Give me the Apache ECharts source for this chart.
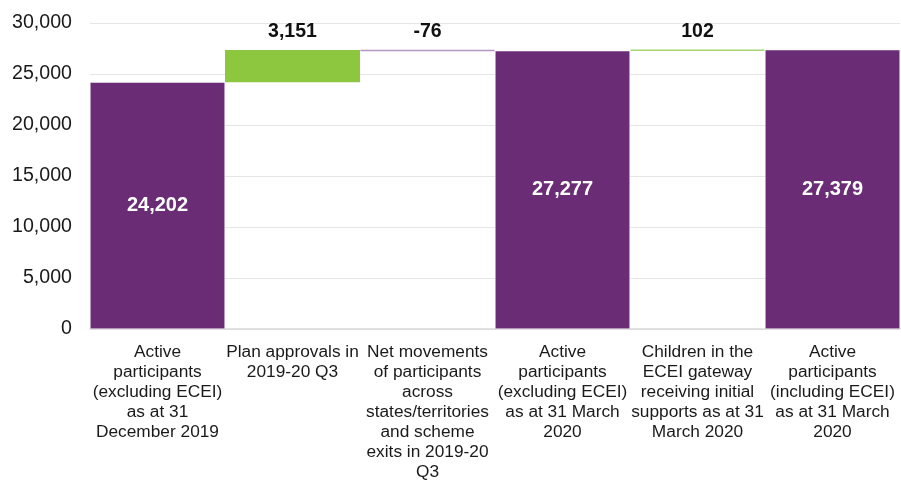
<!DOCTYPE html>
<html><head><meta charset="utf-8">
<script src="https://cdn.jsdelivr.net/npm/echarts@6/dist/echarts.min.js"></script>
<style>html,body{margin:0;padding:0;background:#fff}#c{width:901px;height:482px}</style>
</head><body><div id="c"></div>
<script>
var categories = [
  "Active\nparticipants\n(excluding ECEI)\nas at 31\nDecember 2019",
  "Plan approvals in\n2019-20 Q3",
  "Net movements\nof participants\nacross\nstates/territories\nand scheme\nexits in 2019-20\nQ3",
  "Active\nparticipants\n(excluding ECEI)\nas at 31 March\n2020",
  "Children in the\nECEI gateway\nreceiving initial\nsupports as at 31\nMarch 2020",
  "Active\nparticipants\n(including ECEI)\nas at 31 March\n2020"
];
var values = [24202, 3151, -76, 27277, 102, 27379];
var kinds = ["total", "delta", "delta", "total", "delta", "total"];
var yTicks = [0, 5000, 10000, 15000, 20000, 25000, 30000];

var PURPLE = "#6A2C75", GREEN = "#8DC63F", LPURPLE = "#B595C2", LGREEN = "#A6D472";
function fmt(v){ return v.toLocaleString("en-US"); }

var base = [], shown = [];
var running = 0;
for (var i = 0; i < values.length; i++) {
  var v = values[i];
  if (kinds[i] === "total") {
    base.push(0);
    shown.push({value: v, itemStyle: {color: PURPLE, borderColor: "#fff", borderWidth: 0.5},
      label: {show: true, position: "inside", color: "#fff", fontWeight: "bold", fontSize: 20, formatter: fmt(v)}});
    running = v;
  } else {
    var lo = v >= 0 ? running : running + v;
    base.push(lo);
    var style;
    if (v > 1000) style = {color: GREEN};
    else if (v >= 0) style = {color: "#fff", borderColor: LGREEN, borderWidth: 1.5};
    else style = {color: "#fff", borderColor: LPURPLE, borderWidth: 1.5};
    shown.push({value: Math.abs(v), itemStyle: style,
      label: {show: true, position: "top", distance: 8, color: "#111", fontWeight: "bold", fontSize: 19.5, formatter: fmt(v)}});
    running = running + v;
  }
}

var chart = echarts.init(document.getElementById("c"));
chart.setOption({
  animation: false,
  textStyle: {fontFamily: "Liberation Sans, Arial, sans-serif"},
  grid: {left: 90, right: 1, top: 23, bottom: 150, containLabel: false},
  xAxis: {
    type: "category", data: categories,
    axisTick: {show: false},
    axisLine: {lineStyle: {color: "#D9D9D9", width: 1.5}},
    axisLabel: {interval: 0, color: "#1a1a1a", fontSize: 17.3, lineHeight: 20, margin: 13,
      fontFamily: "Liberation Sans, Arial, sans-serif"}
  },
  yAxis: {
    type: "value", min: 0, max: 30000, interval: 5000,
    axisLine: {show: false}, axisTick: {show: false},
    splitLine: {lineStyle: {color: "#E6E6E6", width: 1}},
    axisLabel: {color: "#1a1a1a", fontSize: 19.6, margin: 18,
      formatter: function(v){ return fmt(v); },
      fontFamily: "Liberation Sans, Arial, sans-serif"}
  },
  series: [
    {type: "bar", stack: "w", data: base, barCategoryGap: "0%",
      itemStyle: {color: "transparent"}, emphasis: {disabled: true}, silent: true},
    {type: "bar", stack: "w", data: shown, barCategoryGap: "0%"}
  ]
});
</script></body></html>
